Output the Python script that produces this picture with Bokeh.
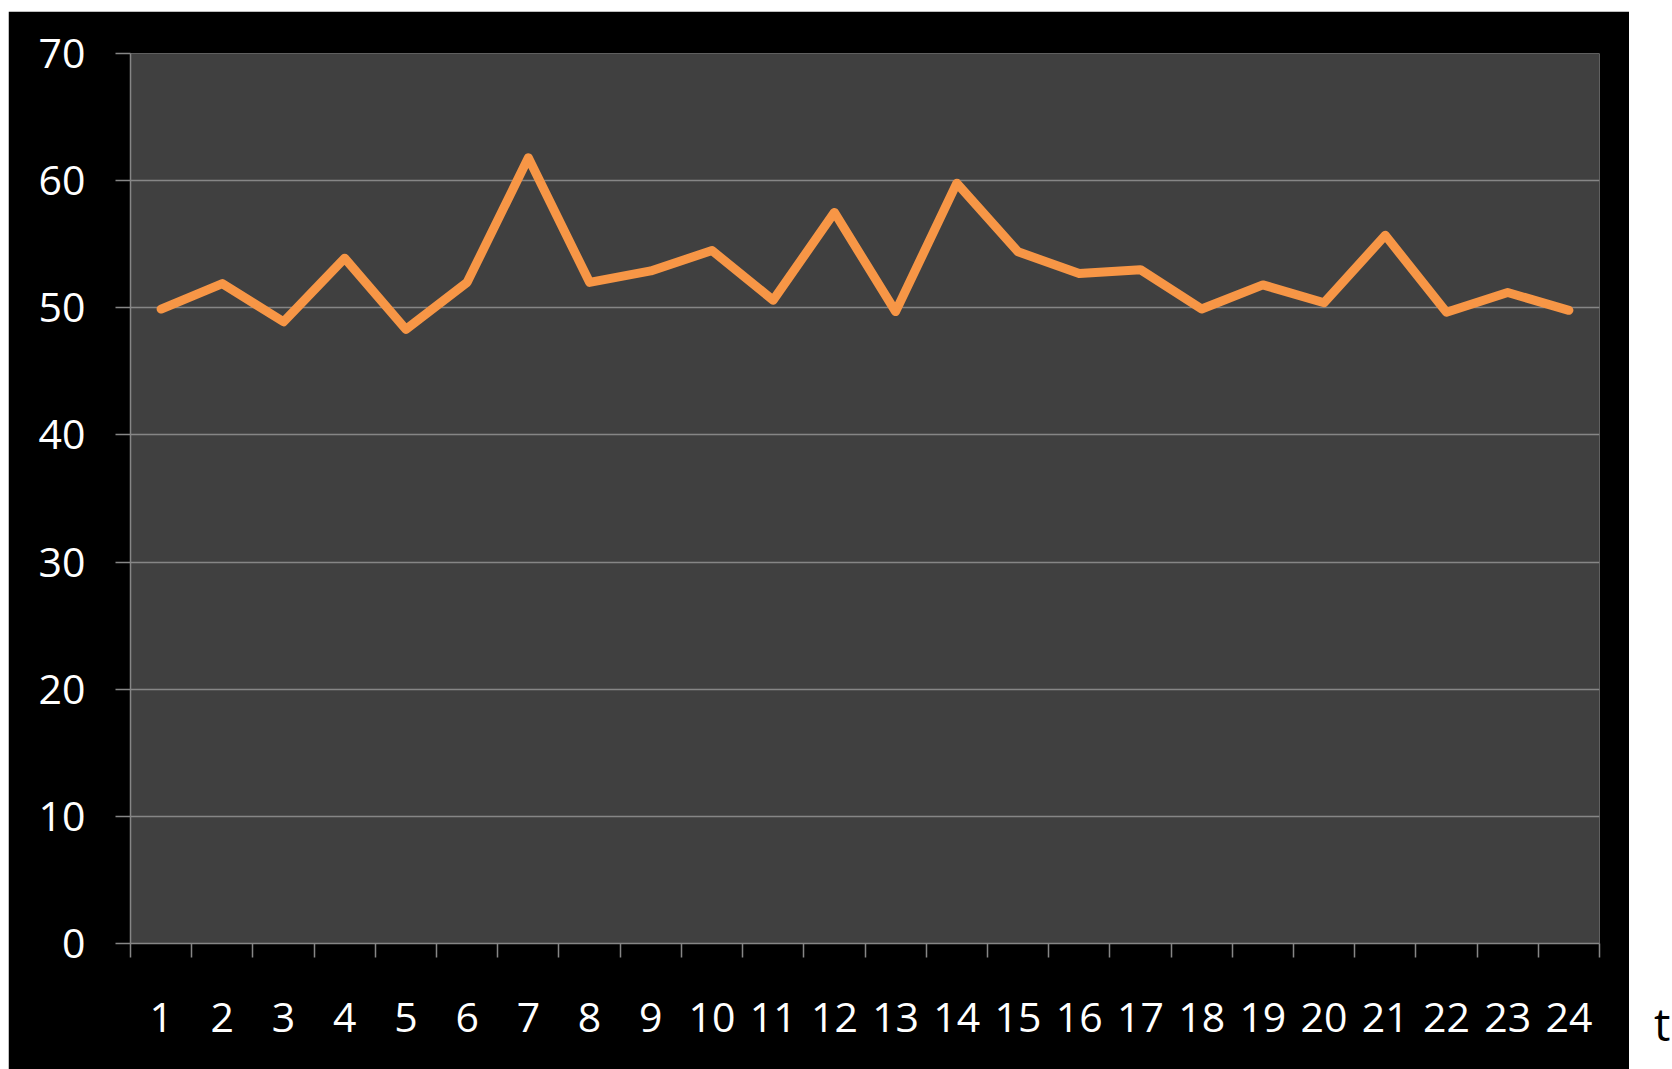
from bokeh.plotting import figure
from bokeh.models import FixedTicker, Range1d, Spacer, Div
from bokeh.layouts import column, row
from bokeh.embed import file_html
from bokeh.resources import INLINE

periods = list(range(1, 25))
values = [49.9, 51.9, 48.9, 53.9, 48.3, 52.0, 61.8, 52.0, 52.9, 54.5, 50.6, 57.5,
          49.7, 59.8, 54.4, 52.7, 53.0, 49.9, 51.8, 50.4, 55.7, 49.65, 51.2, 49.8]
y_ticks = [0, 10, 20, 30, 40, 50, 60, 70]
x_label = "t"

FONT = "Open Sans"
GREY = "#868686"

p = figure(width=1621, height=1058, output_backend="svg", toolbar_location=None,
           x_range=Range1d(0.5, 24.5), y_range=Range1d(0, 70),
           min_border_left=122, min_border_right=30, min_border_top=42, min_border_bottom=126)
p.background_fill_color = "#404040"
p.border_fill_color = "black"
p.outline_line_color = None

p.line(periods, values, line_color="#F79646", line_width=9, line_join="round", line_cap="round")

# y axis
p.yaxis.ticker = FixedTicker(ticks=y_ticks)
p.yaxis.axis_line_color = GREY
p.yaxis.axis_line_width = 1.5
p.yaxis.major_tick_line_color = GREY
p.yaxis.major_tick_line_width = 1.5
p.yaxis.major_tick_out = 15
p.yaxis.major_tick_in = 0
p.yaxis.minor_tick_line_color = None
p.yaxis.major_label_text_color = "white"
p.yaxis.major_label_text_font = FONT
p.yaxis.major_label_text_font_size = "41px"
p.yaxis.major_label_standoff = 30

# x axis: labels at centres, tick marks at boundaries (minor ticks)
p.xaxis.ticker = FixedTicker(ticks=periods, minor_ticks=[i + 0.5 for i in range(0, 25)])
p.xaxis.axis_line_color = GREY
p.xaxis.axis_line_width = 1.5
p.xaxis.major_tick_line_color = None
p.xaxis.major_tick_out = 0
p.xaxis.major_tick_in = 0
p.xaxis.minor_tick_line_color = GREY
p.xaxis.minor_tick_line_width = 1.5
p.xaxis.minor_tick_out = 14
p.xaxis.minor_tick_in = 0
p.xaxis.major_label_text_color = "white"
p.xaxis.major_label_text_font = FONT
p.xaxis.major_label_text_font_size = "41px"
p.xaxis.major_label_standoff = 45

p.xgrid.grid_line_color = None
p.ygrid.grid_line_color = GREY
p.ygrid.grid_line_width = 1.5
p.ygrid.ticker = FixedTicker(ticks=y_ticks)

# side label "t" outside the black area
t_div = Div(text=x_label, width=43, height=1058,
            styles={"font-family": FONT, "font-size": "46px", "color": "black",
                    "line-height": "1", "padding-top": "984px", "padding-left": "20px",
                    "box-sizing": "border-box", "overflow": "hidden"})

layout = column(Spacer(height=11, width=1672), row(Spacer(width=8, height=1058), p, t_div))
open("out.html", "w").write(file_html(layout, INLINE))
